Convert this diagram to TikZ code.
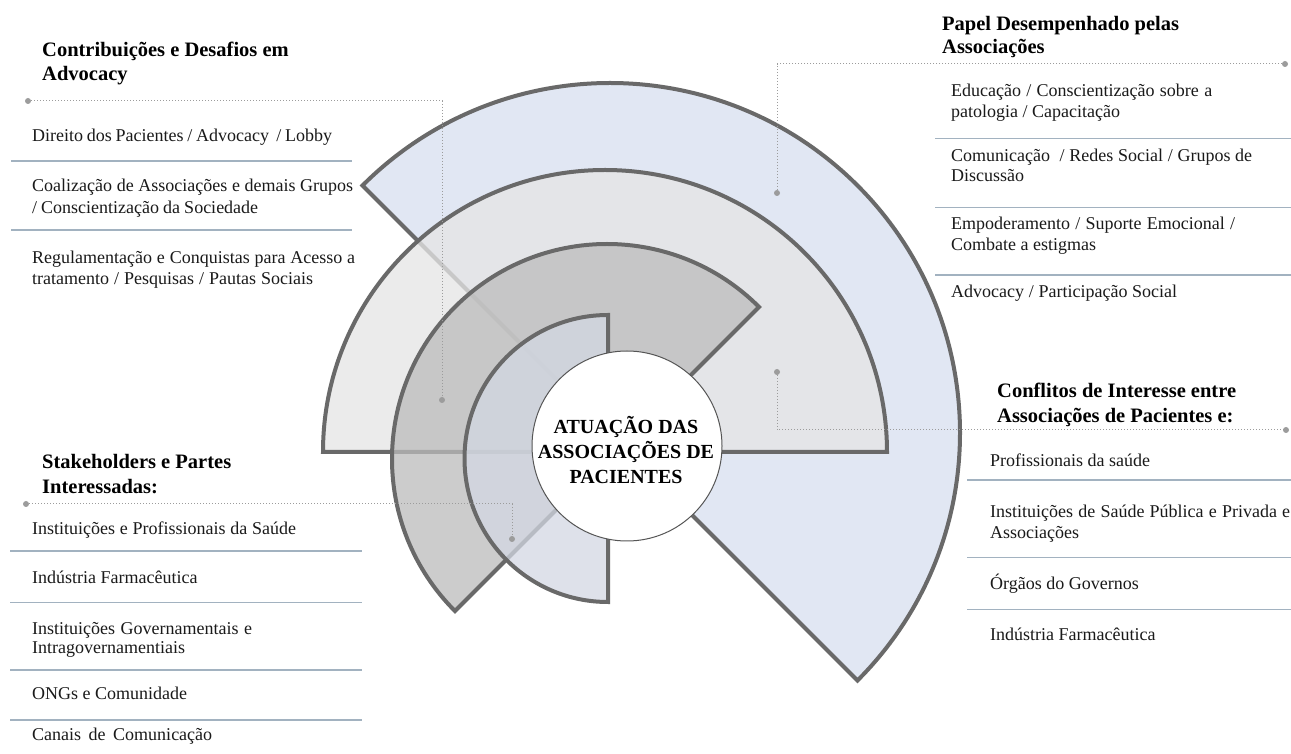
\documentclass[tikz,border=0pt]{standalone}
\usepackage{fontspec}
\setmainfont{Liberation Serif}
\definecolor{bluefill}{HTML}{E1E7F3}
\definecolor{lgreyfill}{HTML}{E5E5E5}
\definecolor{dgreyfill}{HTML}{BCBCBC}
\definecolor{sbluefill}{HTML}{D3D8E3}
\definecolor{ringcol}{HTML}{696969}
\definecolor{circcol}{HTML}{555555}
\definecolor{sepcol}{HTML}{A2B2C0}
\definecolor{dotcol}{HTML}{9C9C9C}
\definecolor{txtcol}{HTML}{1A1A1A}
\newcommand{\jl}[2]{\makebox[#1pt][s]{#2}}
\begin{document}
\begin{tikzpicture}[x=1pt,y=1pt,
  ring/.style={draw=ringcol, line width=4pt, line join=miter},
  body/.style={anchor=base west, inner sep=0pt, text=txtcol, font=\fontsize{18}{21}\selectfont},
  head/.style={anchor=base west, inner sep=0pt, text=black, font=\fontsize{20.5}{24}\selectfont\bfseries},
  sep/.style={draw=sepcol, line width=1.3pt},
  dots/.style={draw=dotcol, line width=1pt, dash pattern=on 1.4pt off 1.6pt},
  dotend/.style={circle, fill=dotcol, inner sep=0pt, minimum size=6pt}]
\useasboundingbox (0,0) rectangle (1291,753);
\fill[white] (0,0) rectangle (1291,753);

% rings (bottom to top)
\path[ring, fill=bluefill] (610,320) -- ++(-45:350pt) arc[start angle=-45, end angle=135, radius=350pt] -- cycle;
\path[ring, fill=lgreyfill, fill opacity=0.77] (605,301) -- ++(0:282pt) arc[start angle=0, end angle=180, radius=282pt] -- cycle;
\path[ring, fill=dgreyfill, fill opacity=0.75] (607,294) -- ++(45:215pt) arc[start angle=45, end angle=225, radius=215pt] -- cycle;
\path[ring, fill=sbluefill, fill opacity=0.745] (608,294.5) -- ++(90:143.5pt) arc[start angle=90, end angle=270, radius=143.5pt] -- cycle;

% dotted connectors
\node[dotend] (a1) at (28,652) {};
\node[dotend] (a2) at (442,353) {};
\draw[dots] (a1.center) -| (a2.center);
\node[dotend] (b1) at (1285,689) {};
\node[dotend] (b2) at (777,560) {};
\draw[dots] (b1.center) -| (b2.center);
\node[dotend] (c1) at (777,381) {};
\node[dotend] (c2) at (1286,323) {};
\draw[dots] (c1.center) |- (c2.center);
\node[dotend] (d1) at (26,249) {};
\node[dotend] (d2) at (512,214) {};
\draw[dots] (d1.center) -| (d2.center);

% centre
\node[circle, draw=circcol, line width=1pt, fill=white, minimum size=190pt, inner sep=0pt] (core) at (627,307) {};
\node[align=center, inner sep=0pt, font=\fontsize{20}{25}\selectfont\bfseries] (coretext) at (626,303)
  {ATUAÇÃO DAS\\ASSOCIAÇÕES DE\\PACIENTES};

% top-left block
\node[head] (h1a) at (42,696.5) {Contribuições e Desafios em};
\node[head] (h1b) at (42,672.3) {Advocacy};
\node[body] (t1) at (32,611) {\jl{300}{Direito dos Pacientes / Advocacy \ / Lobby}};
\draw[sep] (11,592) -- (352,592);
\node[body] (t2a) at (32,561.3) {\jl{321}{Coalização de Associações e demais Grupos}};
\node[body] (t2b) at (32,539.7) {\jl{226}{/ Conscientização da Sociedade}};
\draw[sep] (11,523) -- (352,523);
\node[body] (t3a) at (32,489.7) {\jl{323}{Regulamentação e Conquistas para Acesso a}};
\node[body] (t3b) at (32,468) {\jl{281}{tratamento / Pesquisas / Pautas Sociais}};

% top-right block
\node[head] (h2a) at (942,722.3) {Papel Desempenhado pelas};
\node[head] (h2b) at (942,699) {Associações};
\node[body] (p1a) at (951,656.3) {\jl{261}{Educação / Conscientização sobre a}};
\node[body] (p1b) at (951,635.7) {patologia / Capacitação};
\draw[sep] (935,614.7) -- (1291,614.7);
\node[body] (p2a) at (951,591.3) {\jl{301}{Comunicação \ / Redes Social / Grupos de}};
\node[body] (p2b) at (951,571.3) {Discussão};
\draw[sep] (935,545.7) -- (1291,545.7);
\node[body] (p3a) at (951,523) {\jl{284}{Empoderamento / Suporte Emocional /}};
\node[body] (p3b) at (951,502.3) {Combate a estigmas};
\draw[sep] (935,478) -- (1291,478);
\node[body] (p4) at (951,455.3) {\jl{226}{Advocacy / Participação Social}};

% right block
\node[head] (h3a) at (997,355.7) {Conflitos de Interesse entre};
\node[head] (h3b) at (997,330.3) {Associações de Pacientes e:};
\node[body] (k1) at (990,286.3) {Profissionais da saúde};
\draw[sep] (967,273) -- (1291,273);
\node[body] (k2a) at (990,235.3) {\jl{300}{Instituições de Saúde Pública e Privada e}};
\node[body] (k2b) at (990,214.7) {Associações};
\draw[sep] (967,195.3) -- (1291,195.3);
\node[body] (k3) at (990,163.7) {Órgãos do Governos};
\draw[sep] (967,143.7) -- (1291,143.7);
\node[body] (k4) at (990,112.3) {Indústria Farmacêutica};

% bottom-left block
\node[head] (h4a) at (42,284.7) {Stakeholders e Partes};
\node[head] (h4b) at (42,259.7) {Interessadas:};
\node[body] (s1) at (32,218) {\jl{264}{Instituições e Profissionais da Saúde}};
\draw[sep] (10,202) -- (362,202);
\node[body] (s2) at (32,169) {Indústria Farmacêutica};
\draw[sep] (10,150.7) -- (362,150.7);
\node[body] (s3a) at (32,119) {\jl{220}{Instituições Governamentais e}};
\node[body] (s3b) at (32,99.7) {Intragovernamentiais};
\draw[sep] (10,83) -- (362,83);
\node[body] (s4) at (32,53.7) {ONGs e Comunidade};
\draw[sep] (10,33) -- (362,33);
\node[body] (s5) at (32,13) {\jl{180}{Canais de Comunicação}};
\end{tikzpicture}
\end{document}
